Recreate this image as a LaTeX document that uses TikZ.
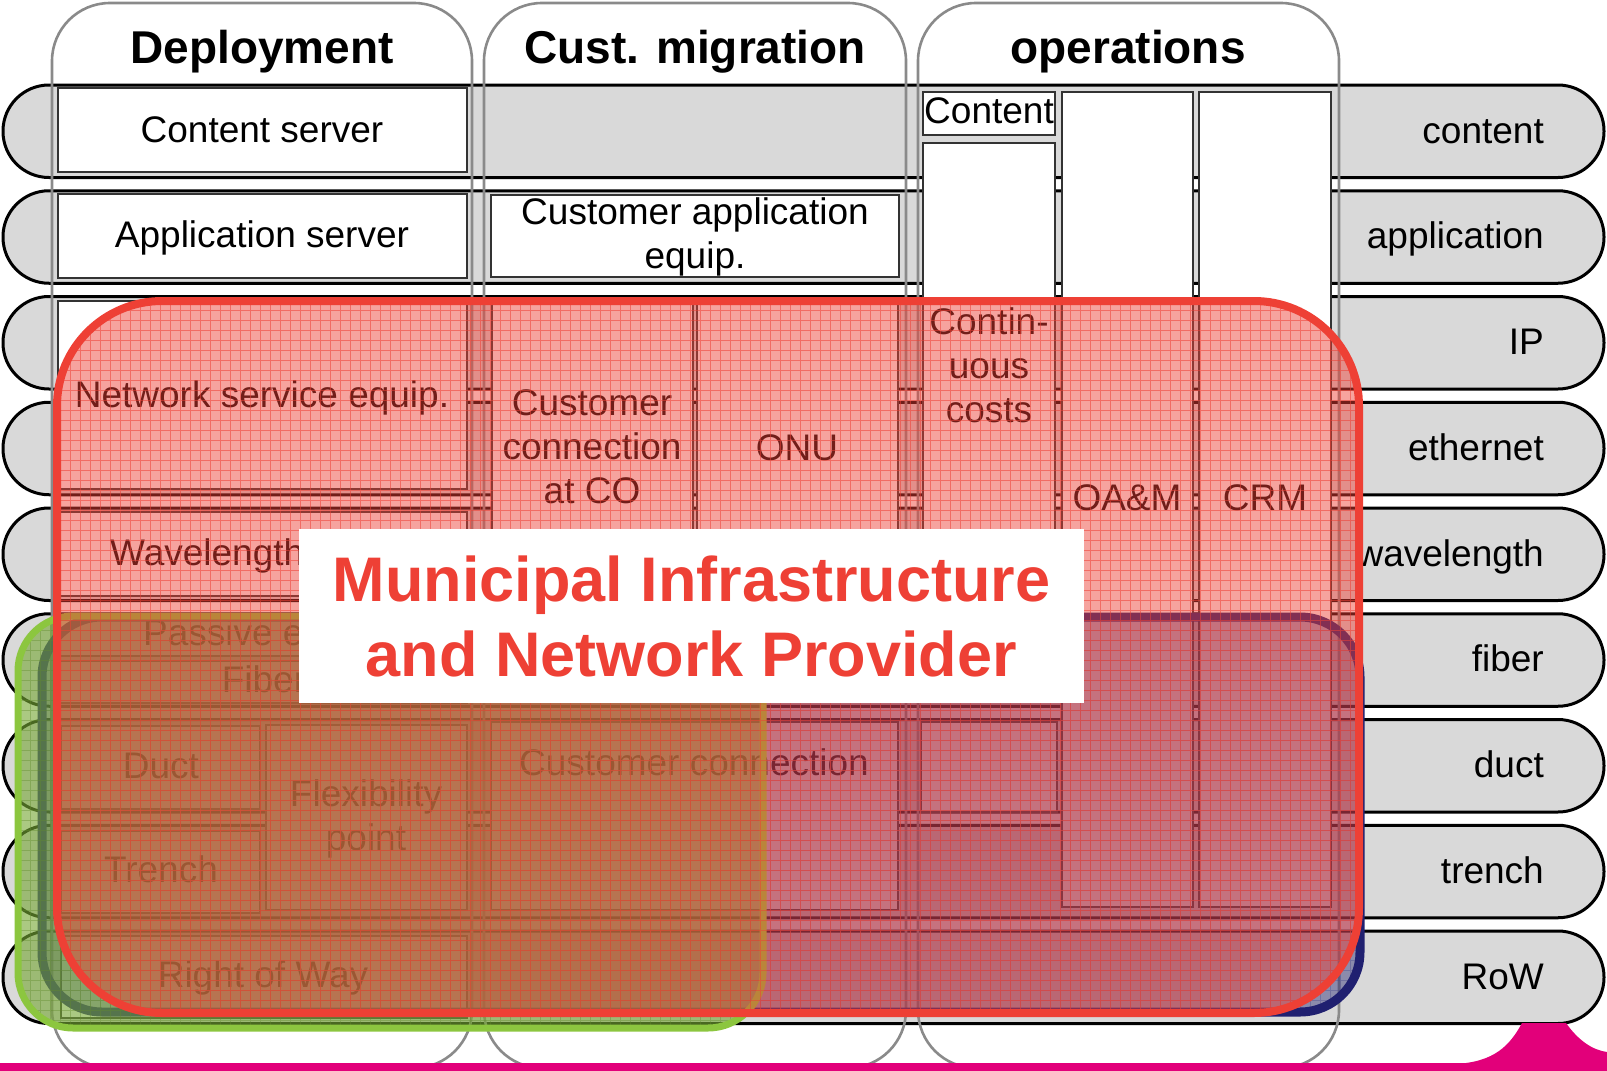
\documentclass[tikz,border=0pt]{standalone}
\usepackage{fontspec}
\setmainfont{Liberation Sans}
\definecolor{bandgray}{HTML}{D9D9D9}
\definecolor{colgray}{HTML}{8A8A8A}
\definecolor{mired}{HTML}{EE4035}
\definecolor{minavy}{HTML}{202070}
\definecolor{migreen}{HTML}{8CC63F}
\definecolor{mipink}{HTML}{E2007A}
\begin{document}
\begin{tikzpicture}[x=1pt,y=-1pt,
  band/.style={draw=black,line width=3pt,fill=bandgray,rounded corners=46pt},
  colbox/.style={draw=colgray,line width=2.6pt,rounded corners=58pt},
  cell/.style={draw=black!80,line width=1.5pt,fill=white},
  txt/.style={font=\fontsize{37}{44}\selectfont,align=center,inner sep=0pt,anchor=base},
  hdr/.style={font=\bfseries\fontsize{46}{52}\selectfont,inner sep=0pt,anchor=base},
  lbl/.style={font=\fontsize{37}{44}\selectfont,inner sep=0pt,anchor=base east},
  ttl/.style={font=\bfseries\fontsize{63}{75}\selectfont,align=center,text=mired,fill=white,inner sep=0pt,minimum width=785pt,minimum height=174pt},
  gridln/.style={line width=0.7pt},
]
\useasboundingbox (0,0) rectangle (1607,1071);

% ---------- layer bands ----------
\foreach \lab [count=\i from 0] in {content,application,IP,ethernet,wavelength,fiber,duct,trench,RoW} {
  \pgfmathsetmacro\bt{85+105.75*\i}
  \draw[band] (3,\bt) rectangle (1604,\bt+92.5);
  \node[lbl] (lab\i) at (1544,\bt+58) {\lab};
}

% ---------- columns ----------
\draw[colbox] (52,3) rectangle (472,1068);
\draw[colbox] (484,3) rectangle (906,1068);
\draw[colbox] (918,3) rectangle (1339,1068);
\node[hdr] (hdep) at (262,63) {Deployment};
\node[hdr] (hcm) at (695,63) {Cust. migration};
\node[hdr] (hops) at (1128,63) {operations};

% ---------- pink footer ----------
\fill[mipink] (0,1063) rectangle (1607,1071);
\fill[mipink] (1455,1064) .. controls (1495,1062) and (1510,1045) .. (1522,1023) -- (1566,1023) .. controls (1578,1040) and (1592,1050) .. (1607,1052) -- (1607,1064) -- cycle;

% ---------- deployment cells ----------
\draw[cell] (58,88) rectangle (467,172);
\draw[cell] (58,194) rectangle (467,278);
\draw[cell] (58,301) rectangle (467,489);
\draw[cell] (58,512) rectangle (467,596);
\draw[cell] (58,617) rectangle (467,656);
\draw[cell] (58,661) rectangle (467,703);
\draw[cell] (61,726) rectangle (260,809);
\draw[cell] (61,831) rectangle (260,913);
\draw[cell] (266,725) rectangle (467,910);
\draw[cell] (61,936) rectangle (467,1018);
\node[txt] (tcs) at (262,142) {Content server};
\node[txt] (tas) at (262,247) {Application server};
\node[txt] (tnse) at (262,407) {Network service equip.};
\node[txt,anchor=base west] (twl) at (110,565) {Wavelength};
\node[txt,anchor=base west] (tpe) at (143,645) {Passive equip.};
\node[txt] (tfi) at (264,692) {Fiber};
\node[txt] (tdu) at (161,778) {Duct};
\node[txt] (ttr) at (161,882) {Trench};
\node[txt] (tfp) at (366,850) {Flexibility\\point};
\node[txt] (trow) at (263,987) {Right of Way};

% ---------- customer migration cells ----------
\draw[cell] (491,195) rectangle (899,277);
\draw[cell] (492,303) rectangle (693,597);
\draw[cell] (697,303) rectangle (898,597);
\draw[cell] (491,722) rectangle (898,910);
\node[txt] (tcae) at (695,268) {Customer application\\equip.};
\node[txt] (tcco) at (592,503) {Customer\\connection\\at CO};
\node[txt] (tonu) at (797,460) {ONU};
\node[txt] (tcc) at (694,775) {Customer connection};

% ---------- operations cells ----------
\draw[cell] (923,92) rectangle (1055,135);
\draw[cell] (923,143) rectangle (1055,597);
\draw[cell] (921,722) rectangle (1057,812);
\draw[cell] (1062,92) rectangle (1193,907);
\draw[cell] (1199,92) rectangle (1331,907);
\node[txt] (tcont) at (989,123) {Content};
\node[txt] (tccost) at (989,422) {Contin-\\uous\\costs};
\node[txt] (toam) at (1127,510) {OA\&M};
\node[txt] (tcrm) at (1265,510) {CRM};

% ---------- navy overlay ----------
\fill[minavy,fill opacity=0.42,rounded corners=60pt] (42,617) rectangle (1360,1012);
\begin{scope}
  \clip[rounded corners=60pt] (42,617) rectangle (1360,1012);
  \draw[gridln,minavy!80,opacity=0.4,step=10pt] (40,610) grid (1365,1015);
\end{scope}
\draw[minavy,line width=9pt,rounded corners=60pt] (42,617) rectangle (1360,1012);

% ---------- green overlay ----------
\fill[migreen!85!black,fill opacity=0.62,rounded corners=55pt] (18,616) rectangle (763,1028);
\begin{scope}
  \clip[rounded corners=55pt] (18,616) rectangle (763,1028);
  \draw[gridln,migreen!70!black,opacity=0.4,step=10pt] (10,610) grid (770,1030);
\end{scope}
\draw[migreen,line width=7pt,rounded corners=55pt] (18,616) rectangle (763,1028);

% ---------- red overlay ----------
\fill[mired,fill opacity=0.48,rounded corners=105pt] (57,301) rectangle (1359,1013);
\begin{scope}
  \clip[rounded corners=105pt] (57,301) rectangle (1359,1013);
  \draw[gridln,mired,opacity=0.55,step=10pt] (50,300) grid (1365,1015);
\end{scope}
\draw[mired,line width=8pt,rounded corners=105pt] (57,301) rectangle (1359,1013);

% ---------- title ----------
\node[ttl] (title) at (691.5,616) {Municipal Infrastructure\\and Network Provider};
\end{tikzpicture}
\end{document}
